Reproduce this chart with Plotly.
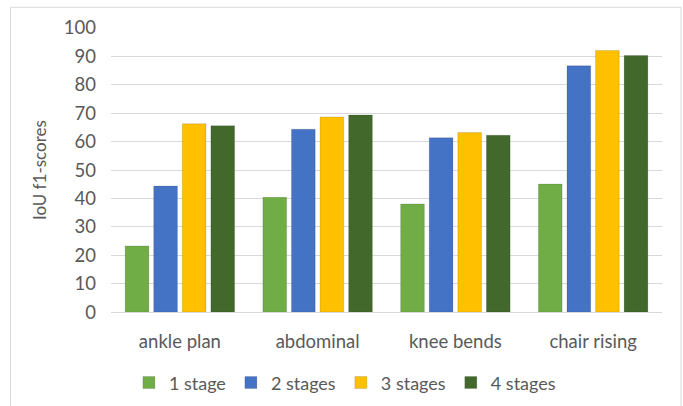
import plotly.graph_objects as go

categories = ["ankle plan", "abdominal", "knee bends", "chair rising"]
series_names = ["1 stage", "2 stages", "3 stages", "4 stages"]
stage1 = [23.3, 40.4, 38.1, 45.1]
stage2 = [44.4, 64.4, 61.4, 86.7]
stage3 = [66.3, 68.7, 63.2, 92.1]
stage4 = [65.6, 69.4, 62.3, 90.3]
colors = ["#70AD47", "#4472C4", "#FFC000", "#43682B"]
y_ticks = [0, 10, 20, 30, 40, 50, 60, 70, 80, 90, 100]

fig = go.Figure()
for name, vals, col in zip(series_names, [stage1, stage2, stage3, stage4], colors):
    fig.add_trace(go.Bar(
        x=categories, y=vals, name=name,
        marker=dict(color=col, line=dict(color="rgba(0,0,0,0.12)", width=1)),
    ))

FONT = "Lato"
fig.update_layout(
    width=683, height=406,
    margin=dict(l=111, r=21, t=28, b=90),
    paper_bgcolor="white", plot_bgcolor="white",
    barmode="group", bargap=0.17, bargroupgap=0.17,
    font=dict(family=FONT, size=18.5, color="#595959"),
    showlegend=True,
    legend=dict(orientation="h", xref="container", x=0.505, xanchor="center",
                yref="container", y=0.057, yanchor="middle",
                font=dict(size=18, color="#595959"), itemwidth=30,
                traceorder="normal"),
    shapes=[dict(type="rect", xref="paper", yref="paper",
                 x0=-0.1824, x1=1.0345, y0=-0.35, y1=1.0729,
                 line=dict(color="#D9D9D9", width=1), fillcolor="rgba(0,0,0,0)",
                 layer="below")],
)
fig.update_yaxes(range=[0, 100], tickvals=y_ticks, showgrid=True, gridcolor="#D9D9D9",
                 gridwidth=1, zeroline=False, showline=False,
                 ticklabelstandoff=14,
                 title=dict(text="IoU f1-scores", font=dict(size=17, color="#595959"), standoff=12))
fig.update_xaxes(showline=True, linecolor="#D9D9D9", linewidth=1, ticks="",
                 ticklabelstandoff=13)

fig.write_html("out.html")
